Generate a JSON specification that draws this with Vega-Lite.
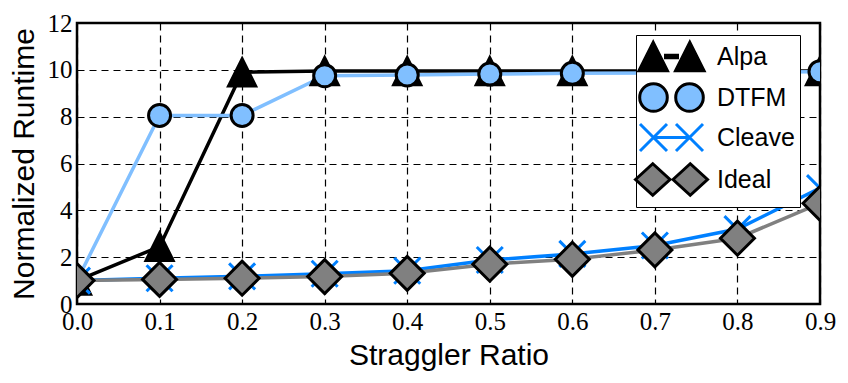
{
  "$schema": "https://vega.github.io/schema/vega-lite/v6.json",
  "width": 743,
  "height": 281,
  "autosize": "none",
  "padding": {"left": 77, "top": 23, "right": 28, "bottom": 79},
  "background": "white",
  "config": {
    "view": {"stroke": "black", "strokeWidth": 2.5},
    "axis": {
      "grid": true, "gridColor": "black", "gridDash": [7, 5], "gridWidth": 1.2, "gridOpacity": 1,
      "domain": false, "ticks": false,
      "labelFont": "Liberation Serif", "labelFontSize": 25, "labelColor": "black",
      "titleFont": "Liberation Sans", "titleFontSize": 30, "titleFontWeight": "normal", "titleColor": "black"
    }
  },
  "data": {
    "values": [
      {"series": "Alpa", "x": 0.0, "y": 1.0},
      {"series": "Alpa", "x": 0.1, "y": 2.45},
      {"series": "Alpa", "x": 0.2, "y": 9.9},
      {"series": "Alpa", "x": 0.3, "y": 9.95},
      {"series": "Alpa", "x": 0.4, "y": 9.95},
      {"series": "Alpa", "x": 0.5, "y": 9.95},
      {"series": "Alpa", "x": 0.6, "y": 9.95},
      {"series": "Alpa", "x": 0.7, "y": 9.95},
      {"series": "Alpa", "x": 0.8, "y": 9.95},
      {"series": "Alpa", "x": 0.9, "y": 9.95},
      {"series": "DTFM", "x": 0.0, "y": 1.0},
      {"series": "DTFM", "x": 0.1, "y": 8.05},
      {"series": "DTFM", "x": 0.2, "y": 8.05},
      {"series": "DTFM", "x": 0.3, "y": 9.75},
      {"series": "DTFM", "x": 0.4, "y": 9.78},
      {"series": "DTFM", "x": 0.5, "y": 9.82},
      {"series": "DTFM", "x": 0.6, "y": 9.85},
      {"series": "DTFM", "x": 0.7, "y": 9.87},
      {"series": "DTFM", "x": 0.8, "y": 9.9},
      {"series": "DTFM", "x": 0.9, "y": 9.92},
      {"series": "Cleave", "x": 0.0, "y": 1.0},
      {"series": "Cleave", "x": 0.1, "y": 1.1},
      {"series": "Cleave", "x": 0.2, "y": 1.18},
      {"series": "Cleave", "x": 0.3, "y": 1.29},
      {"series": "Cleave", "x": 0.4, "y": 1.42},
      {"series": "Cleave", "x": 0.5, "y": 1.88},
      {"series": "Cleave", "x": 0.6, "y": 2.14},
      {"series": "Cleave", "x": 0.7, "y": 2.5},
      {"series": "Cleave", "x": 0.8, "y": 3.2},
      {"series": "Cleave", "x": 0.9, "y": 4.95},
      {"series": "Ideal", "x": 0.0, "y": 1.0},
      {"series": "Ideal", "x": 0.1, "y": 1.05},
      {"series": "Ideal", "x": 0.2, "y": 1.1},
      {"series": "Ideal", "x": 0.3, "y": 1.17},
      {"series": "Ideal", "x": 0.4, "y": 1.31},
      {"series": "Ideal", "x": 0.5, "y": 1.7},
      {"series": "Ideal", "x": 0.6, "y": 1.91},
      {"series": "Ideal", "x": 0.7, "y": 2.31},
      {"series": "Ideal", "x": 0.8, "y": 2.81},
      {"series": "Ideal", "x": 0.9, "y": 4.3}
    ]
  },
  "encoding": {
    "x": {
      "field": "x", "type": "quantitative",
      "scale": {"domain": [0, 0.9], "nice": false, "zero": false},
      "axis": {"values": [0, 0.1, 0.2, 0.3, 0.4, 0.5, 0.6, 0.7, 0.8, 0.9], "format": ".1f", "labelFlush": false, "labelOverlap": false, "labelPadding": 5, "title": "Straggler Ratio", "titlePadding": 6}
    },
    "y": {
      "field": "y", "type": "quantitative",
      "scale": {"domain": [0, 12], "nice": false},
      "axis": {"values": [0, 2, 4, 6, 8, 10, 12], "format": "d", "labelPadding": 5, "title": "Normalized Runtime", "titlePadding": 8}
    }
  },
  "layer": [
    {
      "mark": {"type": "line", "strokeWidth": 3.5, "clip": true},
      "encoding": {
        "stroke": {
          "field": "series", "type": "nominal",
          "scale": {"domain": ["Ideal", "Cleave", "DTFM", "Alpa"], "range": ["#808080", "#0080ff", "#80bfff", "#000000"]},
          "legend": null
        }
      }
    },
    {
      "transform": [{"filter": "datum.series === 'Alpa'"}],
      "mark": {"type": "point", "shape": "M0,-1L1,1L-1,1Z", "size": 784, "filled": true, "fill": "black", "stroke": "black", "strokeWidth": 2.5, "opacity": 1, "clip": true}
    },
    {
      "transform": [{"filter": "datum.series === 'DTFM'"}],
      "mark": {"type": "point", "shape": "circle", "size": 484, "filled": true, "fill": "#80bfff", "stroke": "black", "strokeWidth": 3, "opacity": 1, "clip": true}
    },
    {
      "transform": [{"filter": "datum.series === 'Cleave'"}],
      "mark": {"type": "point", "shape": "M-1,-1L1,1M-1,1L1,-1", "size": 676, "filled": false, "fill": "transparent", "stroke": "#0080ff", "strokeWidth": 3, "opacity": 1, "clip": true}
    },
    {
      "transform": [{"filter": "datum.series === 'Ideal'"}],
      "mark": {"type": "point", "shape": "diamond", "size": 1156, "filled": true, "fill": "#808080", "stroke": "black", "strokeWidth": 3, "opacity": 1, "clip": true}
    },
    {
      "mark": {"type": "line", "strokeWidth": 3, "opacity": 0, "clip": true},
      "encoding": {
        "color": {
          "field": "series", "type": "nominal",
          "scale": {"domain": ["Alpa", "DTFM", "Cleave", "Ideal"], "range": ["#000000", "#000000", "#0080ff", "#000000"]},
          "legend": {
            "orient": "none", "legendX": 559, "legendY": 12, "title": null,
            "fillColor": "white", "strokeColor": "black", "cornerRadius": 0,
            "padding": 5, "rowPadding": 0, "symbolSize": 900, "symbolOffset": 14, "labelOffset": 29,
            "symbolStrokeWidth": 3,
            "labelFont": "Liberation Sans", "labelFontSize": 25, "labelColor": "black", "labelLimit": 300,
            "encode": {
              "symbols": {
                "update": {
                  "shape": {"signal": "datum.value === 'Alpa' ? 'M-2.17,0.95L-1.22,-0.95L-0.27,0.95ZM0.27,0.95L1.22,-0.95L2.17,0.95ZM-0.4,-0.08L0.4,-0.08L0.4,0.08L-0.4,0.08Z' : datum.value === 'DTFM' ? 'M-2.12,0A0.92,0.92,0,1,0,-0.28,0A0.92,0.92,0,1,0,-2.12,0ZM0.28,0A0.92,0.92,0,1,0,2.12,0A0.92,0.92,0,1,0,0.28,0Z' : datum.value === 'Cleave' ? 'M-2.1,-0.9L-0.3,0.9M-2.1,0.9L-0.3,-0.9M0.3,-0.9L2.1,0.9M0.3,0.9L2.1,-0.9M-1.2,0L1.2,0' : 'M-2.4,0L-1.25,-1.05L-0.1,0L-1.25,1.05ZM0.1,0L1.25,-1.05L2.4,0L1.25,1.05Z'"},
                  "fill": {"signal": "datum.value === 'Alpa' ? 'black' : datum.value === 'DTFM' ? '#80bfff' : datum.value === 'Cleave' ? 'transparent' : '#808080'"},
                  "stroke": {"signal": "datum.value === 'Cleave' ? '#0080ff' : 'black'"},
                  "strokeWidth": {"value": 3},
                  "size": {"value": 900},
                  "opacity": {"value": 1},
                  "fillOpacity": {"value": 1},
                  "strokeOpacity": {"value": 1}
                }
              }
            }
          }
        }
      }
    }
  ]
}
